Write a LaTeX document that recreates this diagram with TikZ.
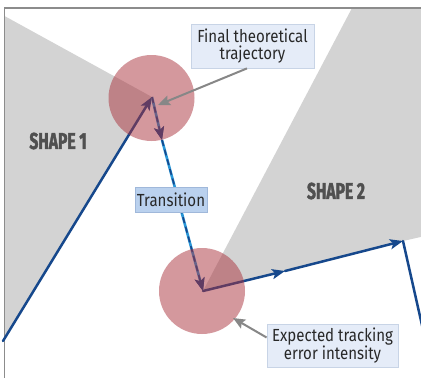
\documentclass[tikz,border=0pt]{standalone}
\usepackage{fontspec}
\setmainfont{Fira Sans}[FakeStretch=0.86]
\newfontfamily\shapefont{Fira Sans}[FakeStretch=0.68, FakeBold=1.8]
\usetikzlibrary{arrows.meta}
\definecolor{shapegray}{RGB}{211,211,211}
\definecolor{framegray}{RGB}{140,140,140}
\definecolor{trajblue}{RGB}{22,72,140}
\definecolor{transcyan}{RGB}{40,150,215}
\definecolor{errpink}{RGB}{170,50,60}
\definecolor{callgray}{RGB}{135,135,135}
\definecolor{boxfill}{RGB}{229,236,248}
\definecolor{boxline}{RGB}{200,212,230}
\definecolor{transfill}{RGB}{186,209,238}
\definecolor{transline}{RGB}{160,184,218}
\definecolor{textdark}{RGB}{40,40,40}
\definecolor{labelgray}{RGB}{80,80,80}
\begin{document}
\begin{tikzpicture}[x=1pt,y=-1pt,
  traj/.style={trajblue, line width=2.5pt, line cap=round, -{Stealth[length=13pt,width=10pt,inset=3pt]}},
  transbase/.style={transcyan, line width=2.6pt, -{Stealth[length=13pt,width=10pt,inset=3pt,color=trajblue]}},
  transdash/.style={trajblue, line width=1.6pt, dash pattern=on 6pt off 4pt, -{Stealth[length=13pt,width=10pt,inset=3pt]}},
  errcircle/.style={circle, minimum size=86pt, inner sep=0pt, fill=errpink, fill opacity=0.5},
  callout/.style={callgray, line width=2pt, -{Stealth[length=12pt,width=10pt,inset=2pt]}},
  notebox/.style={draw=boxline, fill=boxfill, line width=0.8pt, text=textdark, align=center, inner sep=0pt,
    font=\fontsize{17.5}{16.5}\selectfont},
  shapelabel/.style={text=labelgray, inner sep=0pt, font=\shapefont\bfseries\fontsize{23}{23}\selectfont}
]
\useasboundingbox (0,0) rectangle (421,378);
\clip (0,0) rectangle (421,378);
\fill[white] (0,0) rectangle (421,378);
% key points
\coordinate (S) at (3,341);
\coordinate (P1) at (152,97);
\coordinate (A) at (162,140);
\coordinate (P2) at (203,291);
\coordinate (B) at (285,271);
\coordinate (C) at (403,241);
\coordinate (E) at (424,334);
% shapes
\fill[shapegray] (4.5,16) -- (P1) -- (4.5,337) -- cycle;
\fill[shapegray] (352,8) -- (425,8) -- (425,236) -- (C) -- (B) -- (P2) -- cycle;
% frame
\draw[framegray, line width=1.8pt] (4.5,400) -- (4.5,8) -- (430,8);
% trajectory
\draw[traj] (S) -- (P1);
\draw[transbase] (P1) -- (A);
\draw[transdash] (P1) -- (A);
\draw[transbase] (A) -- (P2);
\draw[transdash] (A) -- (P2);
\draw[traj] (P2) -- (B);
\draw[traj] (B) -- (C);
\draw[trajblue, line width=2.5pt, line cap=round] (C) -- (E);
% error circles
\node[errcircle] (c1) at (151.5,98) {};
\node[errcircle] (c2) at (202,291) {};
% labels
\node[shapelabel] (s1) at (58,141) {SHAPE 1};
\node[shapelabel] (s2) at (336,191) {SHAPE 2};
\node[notebox, minimum width=123pt, minimum height=44pt] (b1) at (252.5,46) {Final theoretical\\trajectory};
\node[draw=transline, fill=transfill, line width=0.8pt, text=textdark, inner sep=0pt,
  minimum width=72pt, minimum height=25pt, font=\fontsize{17.5}{16.5}\selectfont] (tr) at (171,199.5) {Transition};
\node[notebox, minimum width=131pt, minimum height=43pt] (b3) at (332.5,345.5) {Expected tracking\\error intensity};
% callouts
\coordinate (t1) at (158,105);
\coordinate (t2) at (233,318);
\draw[callout] ([xshift=-5.5pt]b1.south) -- (t1);
\draw[callout] ([yshift=8pt]b3.west) -- (t2);
\end{tikzpicture}
\end{document}
